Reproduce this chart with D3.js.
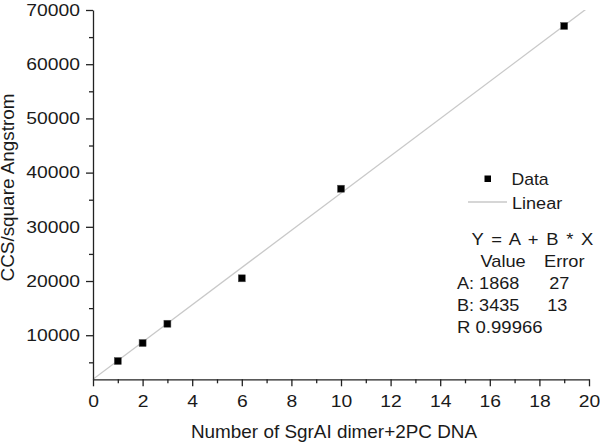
<!DOCTYPE html>
<html>
<head>
<meta charset="utf-8">
<script src="https://cdn.jsdelivr.net/npm/d3@7"></script>
<style>
  html, body { margin: 0; padding: 0; background: #fff; }
  svg { display: block; }
  text { font-family: "Liberation Sans", Arial, sans-serif; fill: #1a1a1a; }
</style>
</head>
<body>
<svg id="chart" width="600" height="444"></svg>
<script>
// ---- data ----
const xValues = [1, 2, 3, 6, 10, 19];
const yValues = [5240, 8560, 12120, 20500, 37030, 67050];
const fitIntercept = 1868;
const fitSlope = 3435;
const xMajorTicks = [0, 2, 4, 6, 8, 10, 12, 14, 16, 18, 20];
const xMinorTicks = [1, 3, 5, 7, 9, 11, 13, 15, 17, 19];
const yMajorTicks = [10000, 20000, 30000, 40000, 50000, 60000, 70000];
const yMinorTicks = [5000, 15000, 25000, 35000, 45000, 55000, 65000];
const xDomain = [0, 20];
const yDomain = [1868, 70000];
const legendLabels = ["Data", "Linear"];
const fitTextLines = ["Y = A + B * X"];
const fitColumns = ["Value", "Error"];
const fitRows = [["A: 1868", "27"], ["B: 3435", "13"]];
const fitR = "R 0.99966";
const xTitle = "Number of SgrAI dimer+2PC DNA";
const yTitle = "CCS/square Angstrom";

// ---- layout ----
const L = 93, R = 589, T = 10, B = 379.3;
const svg = d3.select("#chart");
const x = d3.scaleLinear().domain(xDomain).range([L, R]);
const y = d3.scaleLinear().domain(yDomain).range([B, T]);
const axisColor = "#222";

function stretchText(g, str, tx, ty, size, sx, anchor, rot) {
  return g.append("text")
    .attr("transform", `translate(${tx},${ty})` + (rot ? ` rotate(${rot})` : "") + ` scale(${sx},1)`)
    .attr("font-size", size)
    .attr("text-anchor", anchor || "start")
    .text(str);
}

// clip
svg.append("defs").append("clipPath").attr("id", "plotclip")
  .append("rect").attr("x", L).attr("y", T).attr("width", R - L).attr("height", B - T);

// fit line
const fitLine = d3.line().x(d => x(d)).y(d => y(fitIntercept + fitSlope * d));
svg.append("path")
  .attr("clip-path", "url(#plotclip)")
  .attr("d", fitLine(xDomain))
  .attr("fill", "none")
  .attr("stroke", "#c9c9c9")
  .attr("stroke-width", 1.3);

// axes
const tickScale = 1.15;
const tickFont = 16.8;
const xAxis = svg.append("g").attr("transform", `translate(0,${B})`)
  .call(d3.axisBottom(x).tickValues(xMajorTicks).tickFormat(d3.format("d"))
    .tickSize(7).tickSizeOuter(0).tickPadding(9));
xAxis.selectAll("text").attr("font-size", tickFont).attr("fill", "#1a1a1a")
  .attr("font-family", "Liberation Sans, Arial, sans-serif")
  .attr("transform", `scale(${tickScale},1)`);
svg.append("g").attr("transform", `translate(0,${B})`)
  .call(d3.axisBottom(x).tickValues(xMinorTicks).tickFormat("").tickSize(4).tickSizeOuter(0))
  .select(".domain").remove();

const yAxis = svg.append("g").attr("transform", `translate(${L},0)`)
  .call(d3.axisLeft(y).tickValues(yMajorTicks).tickFormat(d3.format("d"))
    .tickSize(7).tickSizeOuter(0).tickPadding(6));
yAxis.selectAll("text").attr("font-size", tickFont).attr("fill", "#1a1a1a")
  .attr("font-family", "Liberation Sans, Arial, sans-serif")
  .attr("x", -13 / tickScale)
  .attr("transform", `scale(${tickScale},1)`);
svg.append("g").attr("transform", `translate(${L},0)`)
  .call(d3.axisLeft(y).tickValues(yMinorTicks).tickFormat("").tickSize(4).tickSizeOuter(0))
  .select(".domain").remove();

svg.selectAll(".domain, .tick line").attr("stroke", axisColor).attr("stroke-width", 1.3);

// data points
svg.append("g").selectAll("rect").data(xValues).join("rect")
  .attr("x", (d, i) => x(d) - 3.5)
  .attr("y", (d, i) => y(yValues[i]) - 3.5)
  .attr("width", 7).attr("height", 7)
  .attr("fill", "#000")
  .attr("stroke", "#555").attr("stroke-width", 0.5);

// legend
const lg = svg.append("g");
lg.append("rect").attr("x", 484.5).attr("y", 175.5).attr("width", 6.5).attr("height", 6.5).attr("fill", "#000");
stretchText(lg, legendLabels[0], 511.5, 184.5, 16, 1.1);
lg.append("line").attr("x1", 468).attr("x2", 507).attr("y1", 202).attr("y2", 202)
  .attr("stroke", "#c9c9c9").attr("stroke-width", 1.3);
stretchText(lg, legendLabels[1], 512, 208.5, 16, 1.13);

// fit annotation
const an = svg.append("g");
stretchText(an, fitTextLines[0], 471.5, 244.5, 16, 1.15).attr("word-spacing", 2.3);
stretchText(an, fitColumns[0], 480.5, 266.5, 16, 1.14);
stretchText(an, fitColumns[1], 544, 266.5, 16, 1.14);
stretchText(an, fitRows[0][0], 457, 288.5, 16, 1.13);
stretchText(an, fitRows[0][1], 549.3, 288.5, 16, 1.13);
stretchText(an, fitRows[1][0], 457, 310.8, 16, 1.13);
stretchText(an, fitRows[1][1], 547.3, 310.8, 16, 1.13);
stretchText(an, fitR, 457, 333, 16, 1.16);

// axis titles
stretchText(svg, xTitle, 334, 438, 17.5, 1.08, "middle");
stretchText(svg, yTitle, 14, 187.5, 17.5, 1.08, "middle", -90);
</script>
</body>
</html>
